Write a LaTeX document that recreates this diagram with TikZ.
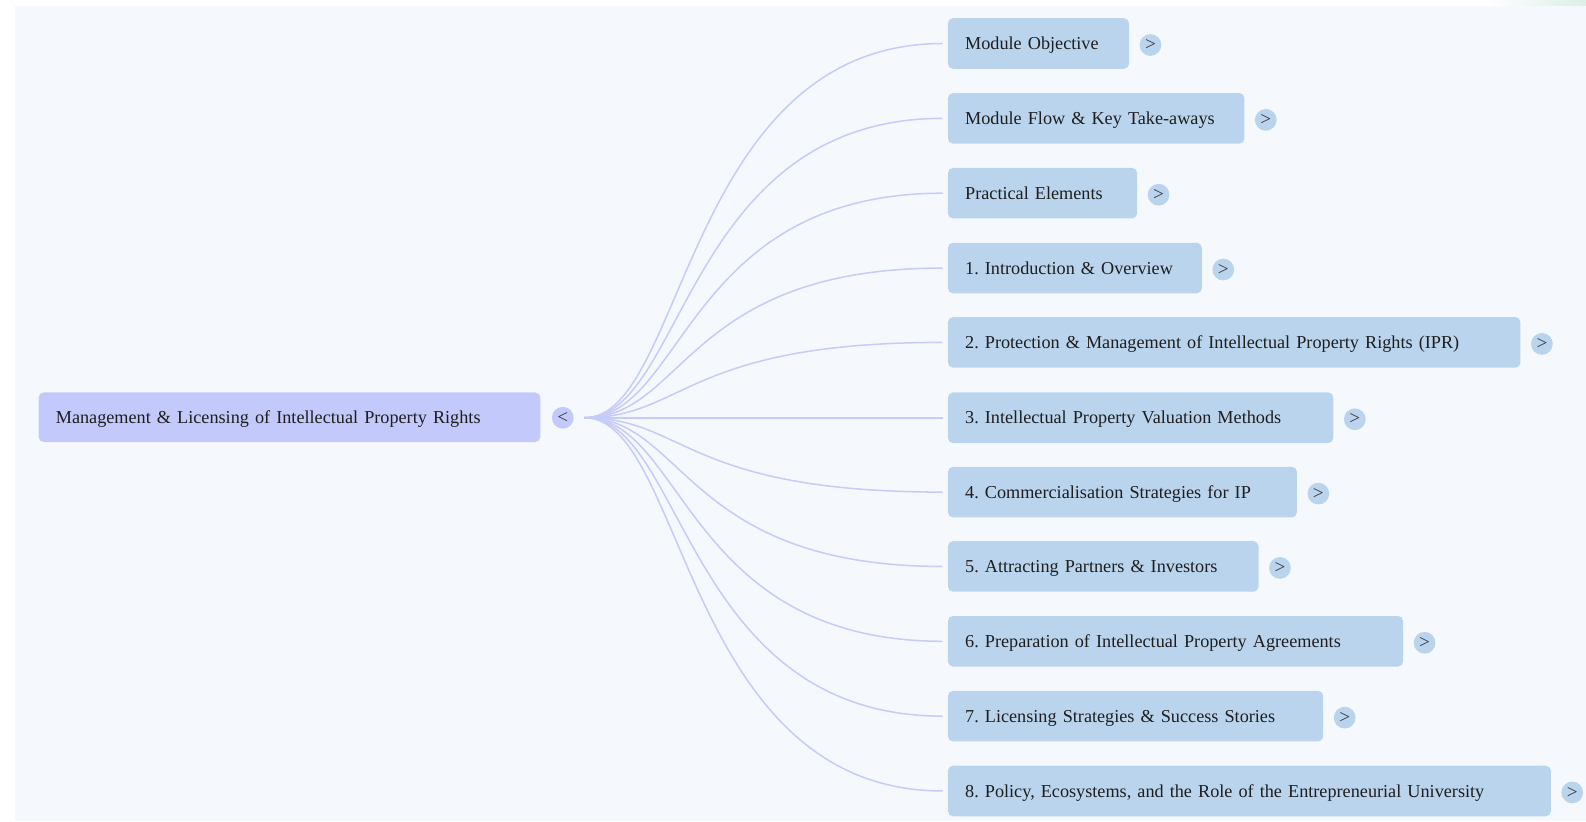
\documentclass[tikz,border=0pt]{standalone}
\usepackage{fontspec}
\setmainfont{Liberation Serif}
\usetikzlibrary{calc}
\definecolor{panelbg}{HTML}{F5F9FE}
\definecolor{childfill}{HTML}{BAD4EE}
\definecolor{rootfill}{HTML}{C4C9FB}
\definecolor{linkcol}{HTML}{C6CBFA}
\definecolor{txt}{HTML}{1E1E1E}
\definecolor{toggletxt}{HTML}{3A3A3A}
\definecolor{mint}{HTML}{DCEFE6}
\tikzset{
  childbox/.style={fill=childfill, rounded corners=5pt, anchor=west, minimum height=50pt,
    inner xsep=17pt, inner ysep=0pt, align=left, text height=16pt, text depth=4pt,
    font=\fontsize{18}{22}\selectfont\frenchspacing, text=txt},
  rootbox/.style={childbox, fill=rootfill},
  togglebtn/.style={circle, fill=childfill, minimum size=21.5pt, inner sep=0pt,
    font=\fontsize{19}{20}\selectfont, text=toggletxt},
  link/.style={draw=linkcol, line width=1.5pt},
}
\begin{document}
\begin{tikzpicture}[x=1pt,y=-1pt]
\useasboundingbox (0,0) rectangle (1568,812);
\fill[white] (0,0) rectangle (1568,812);
\shade[left color=white, right color=mint] (1468,0) -- (1568,0) -- (1568,5.9) -- (1482,5.9) -- cycle;
\fill[panelbg] (14.8,5.9) rectangle (1568,812);

% root
\node[rootbox, text width=462pt, minimum height=49pt] (root) at (38,412.5) {Management \& Licensing of Intellectual Property Rights};
\node[togglebtn, fill=rootfill] (rt) at ($(root.east)+(22,0.5)$) {<};
\coordinate (j) at (578,413);
\coordinate (jc) at (677,413);

% children
\node[childbox, text width=145pt] (c1) at (937,43) {Module Objective};
\node[childbox, text width=259pt] (c2) at (937,117) {Module Flow \& Key Take-aways};
\node[childbox, text width=153pt] (c3) at (937,191) {Practical Elements};
\node[childbox, text width=217pt] (c4) at (937,265) {1. Introduction \& Overview};
\node[childbox, text width=532pt] (c5) at (937,338.5) {2. Protection \& Management of Intellectual Property Rights (IPR)};
\node[childbox, text width=347pt] (c6) at (937,413) {3. Intellectual Property Valuation Methods};
\node[childbox, text width=311pt] (c7) at (937,486.5) {4. Commercialisation Strategies for IP};
\node[childbox, text width=273pt] (c8) at (937,560) {5. Attracting Partners \& Investors};
\node[childbox, text width=416pt] (c9) at (937,634) {6. Preparation of Intellectual Property Agreements};
\node[childbox, text width=337pt] (c10) at (937,708) {7. Licensing Strategies \& Success Stories};
\node[childbox, text width=562pt] (c11) at (937,782) {8. Policy, Ecosystems, and the Role of the Entrepreneurial University};

\foreach \i in {1,...,11}{
  \node[togglebtn] (t\i) at ($(c\i.east)+(21,1.5)$) {>};
  \draw[link] (j) .. controls (jc) and (jc |- c\i.west) .. ($(c\i.west)+(-5,0)$);
}
\end{tikzpicture}
\end{document}
